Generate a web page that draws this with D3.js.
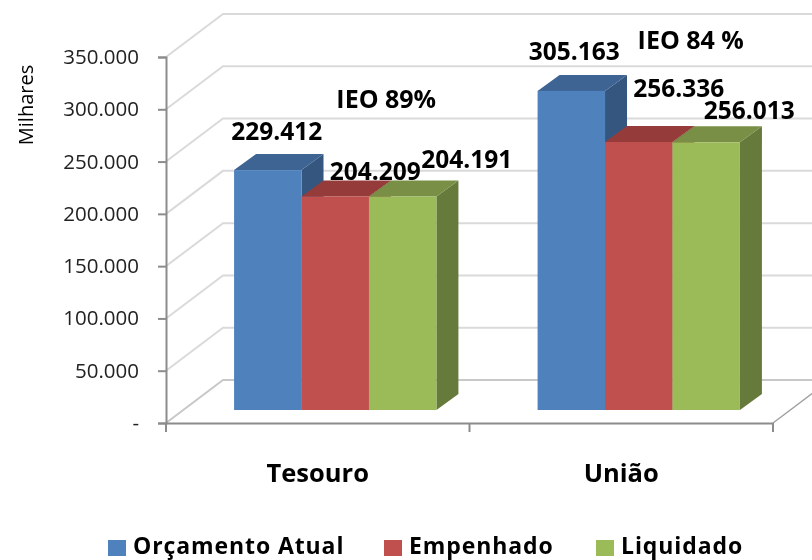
<!DOCTYPE html>
<html>
<head>
<meta charset="utf-8">
<script src="https://cdn.jsdelivr.net/npm/d3@7"></script>
<style>
  html, body { margin: 0; padding: 0; background: #fff; }
  svg { display: block; filter: blur(0.4px); }
  text { font-family: "Open Sans", sans-serif; fill: #000; }
</style>
</head>
<body>
<div id="chartSvg"></div>
<script>
const kSvgWidth = 812;
const kSvgHeight = 560;

// chart data
const categories = ["Tesouro", "União"];
const seriesNames = ["Orçamento Atual", "Empenhado", "Liquidado"];
const orcamento = [229412, 305163];
const empenhado = [204209, 256336];
const liquidado = [204191, 256013];
const ieoLabels = ["IEO 89%", "IEO 84 %"];
const yTicks = [0, 50000, 100000, 150000, 200000, 250000, 300000, 350000];

// colours: front, top, side
const kFront = ["#4f81bd", "#c0504d", "#9bbb59"];
const kTop = ["#3e6494", "#953c3a", "#788f45"];
const kSide = ["#35567f", "#803230", "#667a3b"];

// label nudges, the labels were moved by hand in the original
const kLabelOffsets = [
  [[9, -30], [40, -16], [64, -28]],
  [[3, -31], [40, -45], [43, -23]]
];
const kIeoOffsets = [[51, 108], [52, 49]];

const kLeft = 166, kRight = 773, kBottom = 423, kTop350 = 57;
const kWallDx = 57, kWallDy = -43;   // floor depth, front to back wall
const kBarDx = 17.5, kBarDy = -13;   // bars stand this far in
const kDepthDx = 22, kDepthDy = -16; // depth of a bar

const pts = a => a.map(p => p.join(",")).join(" ");
const fmt = v => d3.format(",")(v).replace(/,/g, ".");

function createSvg()
{
  return d3.select("#chartSvg")
    .append("svg")
    .attr("width", kSvgWidth)
    .attr("height", kSvgHeight);
}

function drawChart(svg)
{
  const values = [orcamento, empenhado, liquidado];

  const yScale = d3.scaleLinear()
    .domain([0, 350000])
    .range([kBottom, kTop350]);

  const xScale = d3.scaleBand()
    .domain(categories)
    .range([kLeft, kRight]);

  const barScale = d3.scaleBand()
    .domain(seriesNames)
    .range([0, xScale.bandwidth()])
    .paddingOuter(0.75)
    .paddingInner(0);

  // gridlines on side wall and back wall
  const grid = svg.append("g");
  yTicks.forEach(t => {
    const y = yScale(t);
    grid.append("polyline")
      .attr("points", pts([[kLeft, y], [kLeft + kWallDx, y + kWallDy], [kRight + kWallDx, y + kWallDy]]))
      .attr("fill", "none")
      .attr("stroke", t === 0 ? "#c8c8c8" : "#dadada")
      .attr("stroke-width", 2);
  });

  // floor edge on the right
  svg.append("line")
    .attr("x1", kRight).attr("y1", kBottom)
    .attr("x2", kRight + kWallDx).attr("y2", kBottom + kWallDy)
    .attr("stroke", "#a0a0a0")
    .attr("stroke-width", 1.5);

  // bars
  categories.forEach((c, ci) => {
    const g = svg.append("g");
    seriesNames.forEach((s, si) => {
      const x0 = xScale(c) + barScale(s) + kBarDx;
      const x1 = x0 + barScale.bandwidth();
      const y0 = yScale(0) + kBarDy;
      const y1 = yScale(values[si][ci]) + kBarDy;
      g.append("polygon")
        .attr("points", pts([[x1, y1], [x1 + kDepthDx, y1 + kDepthDy], [x1 + kDepthDx, y0 + kDepthDy], [x1, y0]]))
        .attr("fill", kSide[si]);
      g.append("polygon")
        .attr("points", pts([[x0, y1], [x0 + kDepthDx, y1 + kDepthDy], [x1 + kDepthDx, y1 + kDepthDy], [x1, y1]]))
        .attr("fill", kTop[si]);
      g.append("rect")
        .attr("x", x0)
        .attr("y", y1)
        .attr("width", barScale.bandwidth())
        .attr("height", y0 - y1)
        .attr("fill", kFront[si]);
    });
  });

  // axes
  const yAxis = d3.axisLeft(yScale)
    .tickValues(yTicks)
    .tickSize(8)
    .tickPadding(19)
    .tickFormat(d => d === 0 ? "-" : fmt(d));

  const yG = svg.append("g")
    .attr("transform", `translate(${kLeft}, 0)`)
    .call(yAxis);

  const xAxis = d3.axisBottom(xScale)
    .tickSize(0)
    .tickPadding(41);

  const xG = svg.append("g")
    .attr("transform", `translate(0, ${kBottom})`)
    .call(xAxis);

  // category ticks sit on the band edges
  xG.selectAll(".edge")
    .data([kLeft, kLeft + xScale.step(), kRight])
    .enter()
    .append("line")
    .attr("class", "edge")
    .attr("x1", d => d).attr("x2", d => d)
    .attr("y1", 0).attr("y2", 9);

  svg.selectAll(".domain, .tick line, .edge")
    .attr("stroke", "#8c8c8c")
    .attr("stroke-width", 2);

  yG.selectAll("text")
    .style("font-family", '"Open Sans", sans-serif')
    .style("font-size", "20.5px")
    .style("fill", "#222");

  xG.selectAll("text")
    .style("font-family", '"Open Sans", sans-serif')
    .style("font-size", "25.5px")
    .style("font-weight", 700)
    .style("fill", "#000");

  // data labels
  categories.forEach((c, ci) => {
    seriesNames.forEach((s, si) => {
      const off = kLabelOffsets[ci][si];
      svg.append("text")
        .attr("x", xScale(c) + barScale(s) + kBarDx + barScale.bandwidth() / 2 + off[0])
        .attr("y", yScale(values[si][ci]) + kBarDy + off[1])
        .attr("text-anchor", "middle")
        .style("font-size", "24.5px")
        .style("font-weight", 700)
        .text(fmt(values[si][ci]));
    });
    svg.append("text")
      .attr("x", xScale(c) + xScale.bandwidth() / 2 + kBarDx + kIeoOffsets[ci][0])
      .attr("y", kIeoOffsets[ci][1])
      .attr("text-anchor", "middle")
      .style("font-size", "25px")
      .style("font-weight", 700)
      .text(ieoLabels[ci]);
  });

  // axis title
  svg.append("text")
    .attr("transform", "translate(33, 105) rotate(-90)")
    .attr("text-anchor", "middle")
    .style("font-size", "20px")
    .text("Milhares");

  // legend
  const legendX = d3.scaleOrdinal()
    .domain(seriesNames)
    .range([108, 384, 596]);

  const legend = svg.append("g");
  seriesNames.forEach((s, si) => {
    legend.append("rect")
      .attr("x", legendX(s))
      .attr("y", 540)
      .attr("width", 18)
      .attr("height", 16)
      .attr("fill", kFront[si]);
    legend.append("text")
      .attr("x", legendX(s) + 25)
      .attr("y", 553.5)
      .style("font-size", "23px")
      .style("font-weight", 700)
      .style("letter-spacing", "0.9px")
      .text(s);
  });
}

document.addEventListener("DOMContentLoaded", () => {
  const svg = createSvg();
  drawChart(svg);
});
</script>
</body>
</html>
